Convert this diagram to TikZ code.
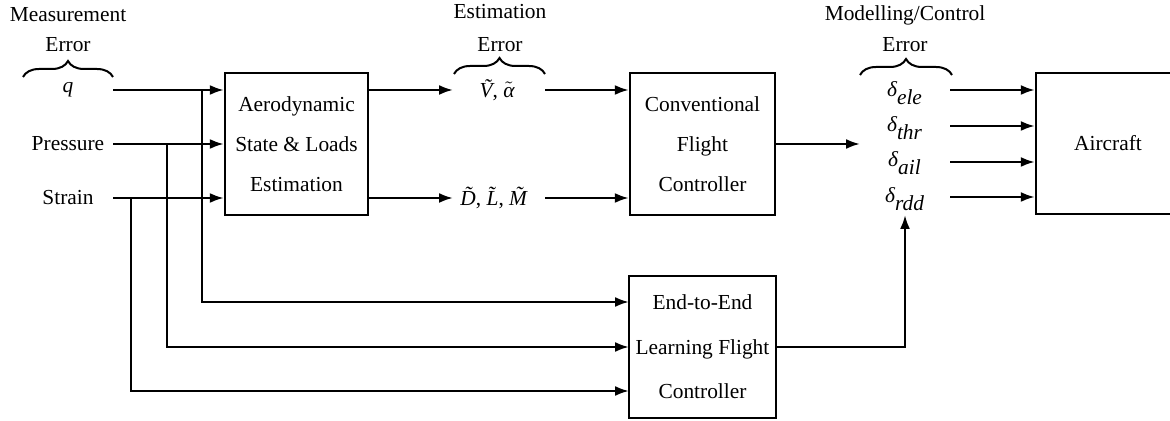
\documentclass[tikz,border=0pt]{standalone}
\usepackage{fontspec}
\setmainfont{Liberation Serif}
\usetikzlibrary{arrows.meta,decorations.pathreplacing}
\begin{document}
\begin{tikzpicture}[x=0.5pt,y=-0.5pt, line width=1.2pt,
  font=\fontsize{10.7}{12}\selectfont,
  arr/.style={-{Latex[length=7pt,width=5pt]}},
  blk/.style={draw, line width=1.2pt, inner sep=0pt, align=center},
  lbl/.style={inner sep=0pt},
  brc/.style={decorate, decoration={brace, amplitude=8pt}, line width=1pt}]
\useasboundingbox (0,0) rectangle (1170,421);
\clip (0,0) rectangle (1170,421);

% blocks
\node[blk, minimum width=71.5pt, minimum height=71pt, font=\fontsize{10.7}{20}\selectfont]
  (aero) at (296.5,144) {Aerodynamic\\State \& Loads\\Estimation};
\node[blk, minimum width=72.5pt, minimum height=71pt, font=\fontsize{10.7}{20}\selectfont]
  (conv) at (702.5,144) {Conventional\\Flight\\Controller};
\node[blk, minimum width=73.5pt, minimum height=71pt, font=\fontsize{10.7}{22.3}\selectfont]
  (endb) at (702.5,347) {End-to-End\\Learning Flight\\Controller};
\node[blk, minimum width=72pt, minimum height=70.5pt]
  (air) at (1108,143.5) {Aircraft};

% top labels
\node[lbl] (meas) at (68,15) {Measurement};
\node[lbl] (err1) at (68,45) {Error};
\node[lbl] (est) at (500,12) {Estimation};
\node[lbl] (err2) at (500,45) {Error};
\node[lbl] (mod) at (905,15) {Modelling/Control};
\node[lbl] (err3) at (905,45) {Error};

% braces
\coordinate (b1a) at (23,77);  \coordinate (b1b) at (113,77);
\coordinate (b2a) at (454,74); \coordinate (b2b) at (545,74);
\coordinate (b3a) at (860,75); \coordinate (b3b) at (952,75);
\draw[brc] (b1a) -- (b1b);
\draw[brc] (b2a) -- (b2b);
\draw[brc] (b3a) -- (b3b);

% inputs
\node[lbl] (q) at (68,90) {\textit{q}};
\node[lbl] (pres) at (68,144) {Pressure};
\node[lbl] (strn) at (68,198) {Strain};
\coordinate (qs) at (113,90);
\coordinate (ps) at (113,144);
\coordinate (ss) at (113,198);
\draw[arr] (qs) -- (aero.west |- qs);
\draw[arr] (ps) -- (aero.west |- ps);
\draw[arr] (ss) -- (aero.west |- ss);

% branches to end-to-end controller
\coordinate (j1) at (202,90);
\coordinate (j2) at (167,144);
\coordinate (j3) at (131,198);
\coordinate (e1) at (629,302);
\coordinate (e2) at (629,347);
\coordinate (e3) at (629,391);
\draw[arr] (j1) |- (e1);
\draw[arr] (j2) |- (e2);
\draw[arr] (j3) |- (e3);

% estimates
\node[lbl] (va) at (497,90) {\textit{Ṽ}, $\tilde{\hbox{\itshape α}}$};
\node[lbl] (dlm) at (498,198) {\textit{D̃}, \textit{L̃}, \textit{M̃}};
\coordinate (va1) at (453,90);  \coordinate (va2) at (545,90);
\coordinate (dl1) at (453,198); \coordinate (dl2) at (545,198);
\draw[arr] (aero.east |- va1) -- (va1);
\draw[arr] (va2) -- (conv.west |- va2);
\draw[arr] (aero.east |- dl1) -- (dl1);
\draw[arr] (dl2) -- (conv.west |- dl2);

% control surfaces
\node[lbl] (dele) at (905,93) {$\textit{δ}_{\textit{ele}}$};
\node[lbl] (dthr) at (905,128) {$\textit{δ}_{\textit{thr}}$};
\node[lbl] (dail) at (905,163) {$\textit{δ}_{\textit{ail}}$};
\node[lbl] (drdd) at (905,199) {$\textit{δ}_{\textit{rdd}}$};
\coordinate (c0) at (860,144);
\draw[arr] (conv.east |- c0) -- (c0);
\coordinate (a1) at (950,90);
\coordinate (a2) at (950,126);
\coordinate (a3) at (950,162);
\coordinate (a4) at (950,197);
\draw[arr] (a1) -- (air.west |- a1);
\draw[arr] (a2) -- (air.west |- a2);
\draw[arr] (a3) -- (air.west |- a3);
\draw[arr] (a4) -- (air.west |- a4);

% end-to-end output
\coordinate (up) at (905,215);
\draw[arr] (endb.east) -| (up);
\end{tikzpicture}
\end{document}
